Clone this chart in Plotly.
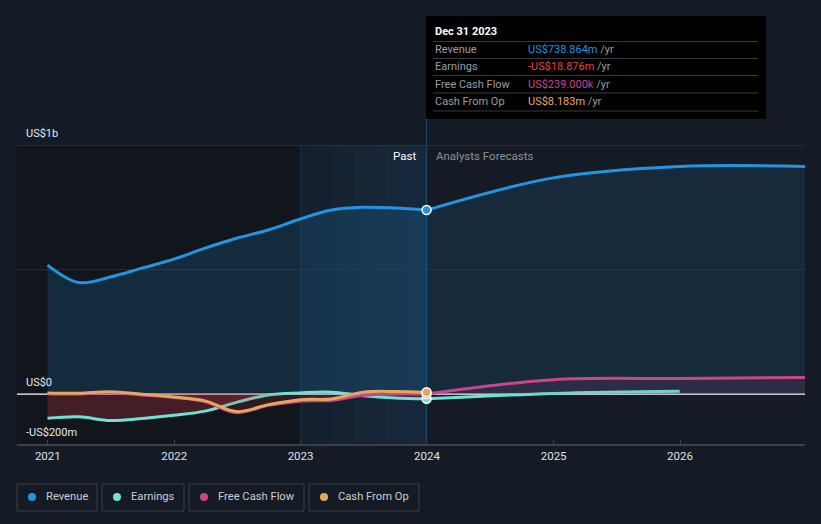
import plotly.graph_objects as go

# ---------------- data (US$ millions) ----------------
past_dates = ["2020-12-31", "2021-03-31", "2021-06-30", "2021-09-30", "2021-12-31",
              "2022-03-31", "2022-06-30", "2022-09-30", "2022-12-31",
              "2023-03-31", "2023-06-30", "2023-09-30", "2023-12-31"]
fc_dates = ["2023-12-31", "2024-12-31", "2025-12-31", "2026-12-31"]

revenue_past = [518, 448, 470, 506, 542, 586, 626, 659, 703, 739, 750, 747, 738.864]
revenue_fc = [738.864, 868, 914, 914]

earnings_past = [-97, -91, -106, -98, -85, -68, -33, -3, 5, 8, -6, -15, -18.876]
earnings_fc = [-18.876, 3, 12]

fcf_past = [2, 1, 6, -3, -13, -30, -74, -45, -28, -25, -5, 1, 0.239]
fcf_fc = [0.239, 58, 63, 67]

cfo_past = [5, 4, 10, 0, -11, -27, -70, -42, -22, -19, 8, 11, 8.183]

y_tick_vals = [1000, 0, -200]
y_tick_text = ["US$1b", "US$0", "-US$200m"]
x_tick_vals = ["2021-01-01", "2022-01-01", "2023-01-01", "2024-01-01", "2025-01-01", "2026-01-01"]
x_tick_text = ["2021", "2022", "2023", "2024", "2025", "2026"]

tooltip_date = "Dec 31 2023"
tooltip_rows = [("Revenue", "US$738.864m", "#2394df"),
                ("Earnings", "-US$18.876m", "#e8423f"),
                ("Free Cash Flow", "US$239.000k", "#c9468b"),
                ("Cash From Op", "US$8.183m", "#e6a75c")]
legend_items = [("Revenue", "#2394df"), ("Earnings", "#6ee3d4"),
                ("Free Cash Flow", "#c9468b"), ("Cash From Op", "#e6a75c")]

# ---------------- style ----------------
BG = "#151b24"
REV = "#2394df"
EARN = "#6ee3d4"
FCF = "#c9468b"
CFO = "#e6a75c"
FONT = "Roboto"

W, H = 821, 524
L, R, T, B = 17, 16, 145, 80


def PX(x):
    return (x - L) / (W - L - R)


def PY(y):
    return (H - B - y) / (H - T - B)


fig = go.Figure()

# Revenue
fig.add_trace(go.Scatter(x=past_dates, y=revenue_past, mode="lines",
                         line=dict(color=REV, width=3, shape="spline"),
                         fill="tozeroy", fillcolor="rgba(35,148,223,0.17)", hoverinfo="skip"))
fig.add_trace(go.Scatter(x=fc_dates, y=revenue_fc, mode="lines",
                         line=dict(color=REV, width=3, shape="spline"),
                         fill="tozeroy", fillcolor="rgba(35,148,223,0.13)", hoverinfo="skip"))
# Earnings
fig.add_trace(go.Scatter(x=past_dates, y=earnings_past, mode="lines",
                         line=dict(color=EARN, width=3, shape="spline"),
                         fill="tozeroy", fillcolor="rgba(190,50,60,0.30)", hoverinfo="skip"))
fig.add_trace(go.Scatter(x=fc_dates[:3], y=earnings_fc, mode="lines",
                         line=dict(color=EARN, width=3, shape="spline"), hoverinfo="skip"))
# FCF
fig.add_trace(go.Scatter(x=past_dates, y=fcf_past, mode="lines",
                         line=dict(color=FCF, width=3, shape="spline"),
                         fill="tozeroy", fillcolor="rgba(190,50,60,0.18)", hoverinfo="skip"))
fig.add_trace(go.Scatter(x=fc_dates, y=fcf_fc, mode="lines",
                         line=dict(color=FCF, width=3, shape="spline"),
                         fill="tozeroy", fillcolor="rgba(201,70,139,0.12)", hoverinfo="skip"))
# CFO
fig.add_trace(go.Scatter(x=past_dates, y=cfo_past, mode="lines",
                         line=dict(color=CFO, width=3, shape="spline"), hoverinfo="skip"))

# hover markers at last reported point
for vals, col in [(earnings_past, EARN), (fcf_past, FCF), (cfo_past, CFO), (revenue_past, REV)]:
    fig.add_trace(go.Scatter(x=[past_dates[-1]], y=[vals[-1]], mode="markers",
                             marker=dict(color=col, size=9, line=dict(color="white", width=1.5)),
                             hoverinfo="skip"))

shapes = []
# darker past region
shapes.append(dict(type="rect", xref="x", yref="paper", x0="2020-10-04", x1="2023-01-01",
                   y0=0, y1=1, fillcolor="#11161d", line=dict(width=0), layer="below"))
# highlighted last-year region, brighter to the right (monthly strips)
strip_edges = [f"2023-{m:02d}-01" for m in range(1, 13)] + ["2023-12-31"]
n_strips = len(strip_edges) - 1
for i in range(n_strips):
    al = 0.06 + 0.11 * i / (n_strips - 1)
    shapes.append(dict(type="rect", xref="x", yref="paper", x0=strip_edges[i], x1=strip_edges[i + 1],
                       y0=0, y1=1, fillcolor=f"rgba(30,115,185,{al:.3f})", line=dict(width=0),
                       layer="below"))
shapes.append(dict(type="line", xref="x", yref="paper", x0="2023-01-01", x1="2023-01-01",
                   y0=0, y1=1, line=dict(color="rgba(40,90,130,0.35)", width=1), layer="below"))
# gridlines
shapes.append(dict(type="line", xref="paper", yref="y", x0=0, x1=1, y0=1000, y1=1000,
                   line=dict(color="#3b4049", width=1), layer="below"))
shapes.append(dict(type="line", xref="paper", yref="y", x0=0, x1=1, y0=500, y1=500,
                   line=dict(color="#262d37", width=1), layer="below"))
# zero line
shapes.append(dict(type="line", xref="paper", yref="y", x0=0, x1=1, y0=0, y1=0,
                   line=dict(color="#ffffff", width=1.3), layer="below"))
# hover line
shapes.append(dict(type="line", xref="x", yref="paper", x0="2023-12-31", x1="2023-12-31",
                   y0=0, y1=PY(16), line=dict(color="#1c4766", width=1.2), layer="below"))
# tooltip box
shapes.append(dict(type="rect", xref="paper", yref="paper", x0=PX(426), x1=PX(766),
                   y0=PY(119), y1=PY(16), fillcolor="#000000", line=dict(width=0), layer="above"))
for yy in [41.5, 58.5, 75.5, 93, 111]:
    shapes.append(dict(type="line", xref="paper", yref="paper", x0=PX(433), x1=PX(758),
                       y0=PY(yy), y1=PY(yy), line=dict(color="#3a3a3a", width=1), layer="above"))

annotations = []
# y labels
for v, t in zip(y_tick_vals, y_tick_text):
    annotations.append(dict(xref="paper", yref="y", x=PX(24), y=v, yshift=12, text=t,
                            showarrow=False, xanchor="left", yanchor="middle",
                            font=dict(family=FONT, size=11, color="#e6e8ea")))
# Past / forecasts
annotations.append(dict(xref="paper", yref="paper", x=PX(418), y=PY(156), text="Past",
                        showarrow=False, xanchor="right", yanchor="middle",
                        font=dict(family=FONT, size=11.5, color="#ffffff")))
annotations.append(dict(xref="paper", yref="paper", x=PX(434), y=PY(156), text="Analysts Forecasts",
                        showarrow=False, xanchor="left", yanchor="middle",
                        font=dict(family=FONT, size=11.5, color="#8a9099")))
# tooltip text
annotations.append(dict(xref="paper", yref="paper", x=PX(433), y=PY(31), text="<b>" + tooltip_date + "</b>",
                        showarrow=False, xanchor="left", yanchor="middle",
                        font=dict(family=FONT, size=11, color="#ffffff")))
for i, (lab, val, col) in enumerate(tooltip_rows):
    yy = 49.5 + i * 17.3
    annotations.append(dict(xref="paper", yref="paper", x=PX(433), y=PY(yy), text=lab,
                            showarrow=False, xanchor="left", yanchor="middle",
                            font=dict(family=FONT, size=11, color="#9a9da2")))
    annotations.append(dict(xref="paper", yref="paper", x=PX(526), y=PY(yy),
                            text=f"<span style='color:{col}'>{val}</span> /yr",
                            showarrow=False, xanchor="left", yanchor="middle",
                            font=dict(family=FONT, size=11, color="#9a9da2")))
# legend
boxes = [(17, 97), (102, 184), (189, 304), (309, 419)]
for (x0, x1), (name, col) in zip(boxes, legend_items):
    shapes.append(dict(type="rect", xref="paper", yref="paper", x0=PX(x0), x1=PX(x1),
                       y0=PY(511), y1=PY(484), fillcolor="rgba(0,0,0,0)",
                       line=dict(color="#3b4049", width=1), layer="above"))
    shapes.append(dict(type="circle", xref="paper", yref="paper", x0=PX(x0 + 11), x1=PX(x0 + 19),
                       y0=PY(501), y1=PY(493), fillcolor=col, line=dict(width=0), layer="above"))
    annotations.append(dict(xref="paper", yref="paper", x=PX(x0 + 27), y=PY(496.5), text=name,
                            showarrow=False, xanchor="left", yanchor="middle",
                            font=dict(family=FONT, size=11.2, color="#c9cdd2")))

fig.update_layout(
    width=W, height=H,
    margin=dict(l=L, r=R, t=T, b=B),
    paper_bgcolor=BG, plot_bgcolor=BG,
    showlegend=False,
    shapes=shapes, annotations=annotations,
    xaxis=dict(type="date", range=["2020-10-04", "2026-12-28"],
               tickvals=x_tick_vals, ticktext=x_tick_text,
               showgrid=False, zeroline=False, showline=True, linecolor="#3b4049", linewidth=1.5,
               ticks="inside", ticklen=4, tickcolor="#3b4049",
               tickfont=dict(family=FONT, size=11.5, color="#dfe2e5")),
    yaxis=dict(range=[-200, 1000], showgrid=False, zeroline=False, showticklabels=False,
               fixedrange=True),
)

fig.write_html("out.html",
               config={"displayModeBar": False},
               post_script="document.body.style.margin='0';document.body.style.padding='0';"
                           "document.body.style.overflow='hidden';"
                           "document.body.style.background='" + BG + "';")
